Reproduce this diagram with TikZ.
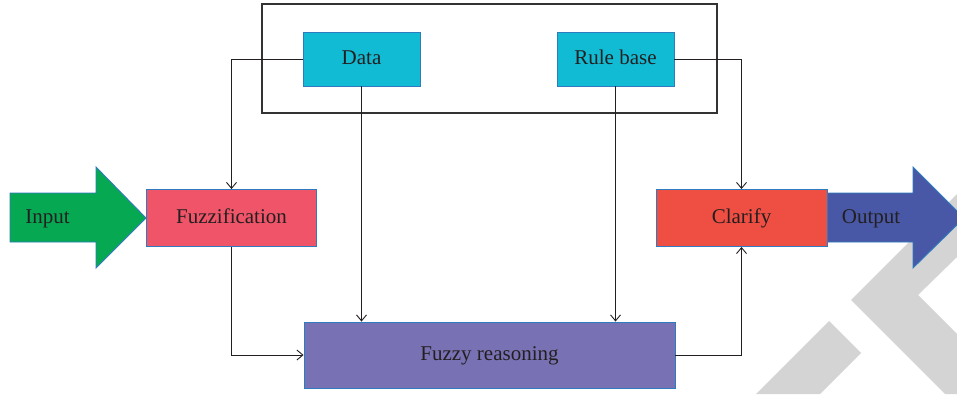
\documentclass[tikz,border=0pt]{standalone}
\usepackage{fontspec}
\setmainfont{Liberation Serif}
\usetikzlibrary{arrows.meta}
\definecolor{txt}{HTML}{231F20}
\definecolor{edge}{HTML}{2E7BBF}
\definecolor{cgreen}{HTML}{07A852}
\definecolor{cpink}{HTML}{F05468}
\definecolor{ccyan}{HTML}{12BBD4}
\definecolor{cred}{HTML}{EF4E43}
\definecolor{cblue}{HTML}{4858A6}
\definecolor{cpurple}{HTML}{7872B4}
\definecolor{wm}{HTML}{D4D4D4}
\definecolor{frame}{HTML}{333333}
\tikzset{
  box/.style={rectangle, draw=edge, line width=0.9pt, inner sep=0pt, text=txt,
    text height=15pt, text depth=5pt, font=\fontsize{21}{24}\selectfont},
  lbl/.style={inner sep=0pt, text=txt, text height=15pt, text depth=5pt,
    font=\fontsize{21}{24}\selectfont},
  conn/.style={draw=txt, line width=0.9pt, -{Straight Barb[length=6pt,width=10pt]}},
  bigarrow/.style={draw=edge, line width=0.9pt, line join=miter}
}
\begin{document}
\begin{tikzpicture}[x=1pt,y=-1pt]
\useasboundingbox (0,0) rectangle (957,394);
\clip (0,0) rectangle (957,394);
\fill[white] (0,0) rectangle (957,394);
% watermark
\fill[wm] (829,321) -- (861,353) -- (820,394) -- (756,394) -- cycle;
\fill[wm] (851,300) -- (957,194) -- (957,257) -- (918,295) -- (957,334) -- (957,394) -- (945,394) -- cycle;
% outer frame
\node[rectangle, draw=frame, line width=1.2pt, minimum width=455pt, minimum height=109pt, inner sep=0pt] (kb) at (489.5,58.5) {};
% boxes
\node[box, fill=ccyan, minimum width=117pt, minimum height=54pt] (data) at (361.5,59) {Data};
\node[box, fill=ccyan, minimum width=117pt, minimum height=54pt] (rule) at (615.5,59) {Rule base};
% arrows
\filldraw[bigarrow, fill=cgreen] (10,193) -- (96,193) -- (96,167) -- (146,218) -- (96,268) -- (96,242) -- (10,242) -- cycle;
\filldraw[bigarrow, fill=cblue] (827,193) -- (913,193) -- (913,167) -- (964,218) -- (913,268) -- (913,242) -- (827,242) -- cycle;
\node[lbl] (in) at (47.5,218) {Input};
\node[lbl] (out) at (871,218) {Output};
\node[box, fill=cpink, minimum width=170pt, minimum height=57pt] (fuzz) at (231.5,218) {Fuzzification};
\node[box, fill=cred, minimum width=171pt, minimum height=57pt] (clar) at (741.5,218) {Clarify};
\node[box, fill=cpurple, minimum width=371pt, minimum height=66pt] (fr) at (489.5,355) {Fuzzy reasoning};
% connectors
\draw[conn] (data.west) -| (fuzz.north);
\draw[conn] (rule.east) -| (clar.north);
\draw[conn] (data.south) -- (data.south |- fr.north);
\draw[conn] (rule.south) -- (rule.south |- fr.north);
\draw[conn] (fuzz.south) |- (fr.west);
\draw[conn] (fr.east) -| (clar.south);
\end{tikzpicture}
\end{document}
